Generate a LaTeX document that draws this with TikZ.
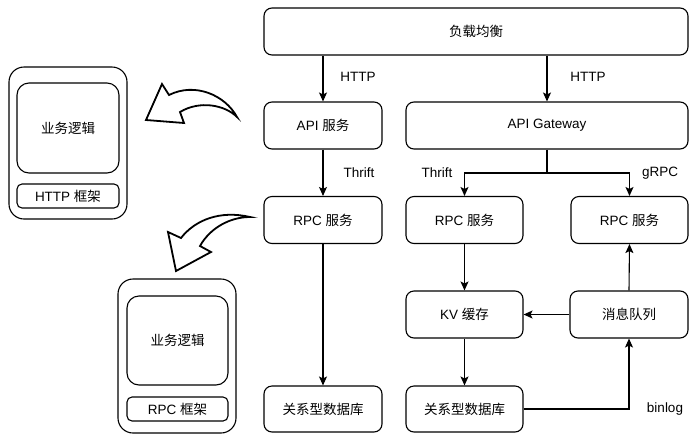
\documentclass[tikz,border=0pt]{standalone}
\usepackage{fontspec}
\setmainfont{Liberation Sans}
\newfontfamily\cjk{Noto Sans CJK SC}
\usetikzlibrary{arrows.meta}
\begin{document}
\begin{tikzpicture}[x=1pt,y=-1pt,
  every node/.style={font=\fontsize{13.5}{15}\selectfont},
  box/.style={draw, line width=1.1pt, rounded corners=8pt, inner sep=0pt, align=center},
  outerbox/.style={draw, line width=1.1pt, rounded corners=15pt, inner sep=0pt},
  innerbox/.style={draw, line width=1.1pt, rounded corners=12pt, inner sep=0pt},
  fwbox/.style={draw, line width=1.1pt, rounded corners=5pt, inner sep=0pt},
  conn/.style={line width=1.1pt, -{Stealth[length=9pt,width=8pt,inset=2pt]}},
  bigarrow/.style={line width=1.8pt, line join=miter, fill=white},
  lbl/.style={inner sep=0pt}
]
\useasboundingbox (0,0) rectangle (696,437);

% main boxes
\node[box, minimum width=424pt, minimum height=47pt] (lb) at (476,31.5) {\cjk 负载均衡};
\node[box, minimum width=118pt, minimum height=47pt] (api) at (323,125.5) {API \cjk 服务};
\node[box, minimum width=282pt, minimum height=47pt] (gw) at (547,125.5) {API Gateway};
\node[box, minimum width=118pt, minimum height=47pt] (rpc1) at (323,220) {RPC \cjk 服务};
\node[box, minimum width=117pt, minimum height=47pt] (rpc2) at (464.5,220) {RPC \cjk 服务};
\node[box, minimum width=117pt, minimum height=47pt] (rpc3) at (629.5,220) {RPC \cjk 服务};
\node[box, minimum width=117pt, minimum height=47pt] (kv) at (464.5,314.5) {KV \cjk 缓存};
\node[box, minimum width=118pt, minimum height=47pt] (mq) at (629,314.5) {\cjk 消息队列};
\node[box, minimum width=117pt, minimum height=46pt] (db2) at (464.5,409) {\cjk 关系型数据库};
\node[box, minimum width=118pt, minimum height=46pt] (db1) at (323,409) {\cjk 关系型数据库};

% connectors
\draw[conn] (lb.south -| api) -- (api.north);
\draw[conn] (lb.south -| gw) -- (gw.north);
\draw[conn] (api) -- (rpc1);
\draw[conn] (rpc1) -- (db1);
\coordinate (br) at (547,173);
\draw[line width=1.1pt] (gw.south) -- (br);
\draw[conn] (br) -| (rpc2.north);
\draw[conn] (br) -| (rpc3.north);
\draw[conn] (rpc2) -- (kv);
\draw[conn] (kv) -- (db2);
\draw[conn] (mq) -- (kv);
\draw[conn] (mq.north) -- (rpc3.south);
\draw[conn] (db2.east) -| (mq.south);

% labels
\node[lbl] (l1) at (358,77) {HTTP};
\node[lbl] (l2) at (588,77) {HTTP};
\node[lbl] (l3) at (359,173) {Thrift};
\node[lbl] (l4) at (437,173) {Thrift};
\node[lbl] (l5) at (660,173) {gRPC};
\node[lbl] (l6) at (665,409) {binlog};

% left framework boxes
\node[outerbox, minimum width=118pt, minimum height=152pt] (out1) at (68,143) {};
\node[innerbox, minimum width=102pt, minimum height=90pt] (in1) at (68,128) {\cjk 业务逻辑};
\node[fwbox, minimum width=102pt, minimum height=24pt] (fw1) at (68,196) {HTTP \cjk 框架};
\node[outerbox, minimum width=118pt, minimum height=154pt] (out2) at (177,356) {};
\node[innerbox, minimum width=101pt, minimum height=89pt] (in2) at (177.5,340.5) {\cjk 业务逻辑};
\node[fwbox, minimum width=101pt, minimum height=24pt] (fw2) at (177.5,409) {RPC \cjk 框架};

% curved hollow arrows
\draw[bigarrow] (146,120) -- (162,84) -- (169,95)
  .. controls (195,82) and (225,95) .. (237,117)
  .. controls (225,105) and (200,100) .. (180,112)
  -- (184,123) -- cycle;
\draw[bigarrow] (176,271) -- (168,232) -- (181,238)
  .. controls (195,220) and (220,210) .. (250,217)
  .. controls (230,217) and (210,228) .. (200,246)
  -- (211,252) -- cycle;
\end{tikzpicture}
\end{document}
